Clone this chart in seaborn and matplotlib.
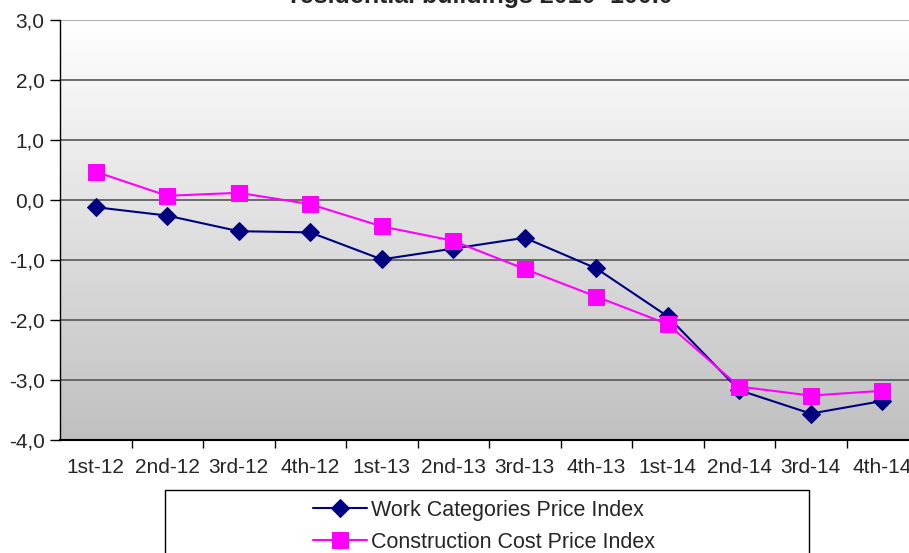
import matplotlib
matplotlib.use("Agg")
import matplotlib.pyplot as plt
from matplotlib.patches import Rectangle
import numpy as np
import pandas as pd
import seaborn as sns

quarters = ['1st-12', '2nd-12', '3rd-12', '4th-12', '1st-13', '2nd-13',
            '3rd-13', '4th-13', '1st-14', '2nd-14', '3rd-14', '4th-14']
work_index = [-0.12, -0.26, -0.52, -0.54, -0.99, -0.81,
              -0.63, -1.14, -1.94, -3.17, -3.56, -3.35]
cost_index = [0.47, 0.07, 0.12, -0.07, -0.44, -0.68,
              -1.15, -1.61, -2.07, -3.11, -3.26, -3.18]
y_ticks = [-4, -3, -2, -1, 0, 1, 2, 3]

df = pd.DataFrame({'Quarter': quarters,
                   'Work Categories Price Index': work_index,
                   'Construction Cost Price Index': cost_index})

sns.set_theme(style='white')
plt.rcParams['font.family'] = ['Liberation Sans', 'DejaVu Sans']

W, H = 909, 553
fig = plt.figure(figsize=(W / 100, H / 100), dpi=100)
# axes spans 60..918 px horizontally (runs off the right edge), 20..440 px vertically
ax = fig.add_axes([60 / W, (H - 440) / H, 858 / W, 420 / H])

# grey gradient background
grad = np.linspace(0, 1, 256).reshape(-1, 1)
ax.imshow(grad, extent=[-0.5, 11.5, -4, 3], aspect='auto', origin='upper',
          cmap=matplotlib.colors.LinearSegmentedColormap.from_list('g', ['#ffffff', '#c0c0c0']),
          zorder=0)

for v in y_ticks[1:]:
    ax.axhline(v, color='#555555' if v < 3 else '#a0a0a0', lw=1.2, zorder=1)

sns.lineplot(data=df, x='Quarter', y='Work Categories Price Index', ax=ax,
             color='#000080', marker='D', markersize=9, markeredgecolor='#000080',
             lw=1.5, label='Work Categories Price Index', zorder=3, legend=False)
sns.lineplot(data=df, x='Quarter', y='Construction Cost Price Index', ax=ax,
             color='#ff00ff', marker='s', markersize=11, markeredgecolor='#ff00ff',
             lw=1.5, label='Construction Cost Price Index', zorder=4, legend=False)

ax.set_xlim(-0.5, 11.5)
ax.set_ylim(-4, 3)
ax.set_yticks(y_ticks)
ax.set_yticklabels([f'{v:.1f}'.replace('.', ',') for v in y_ticks], fontsize=15)
ax.set_xticks(range(12))
ax.set_xticklabels(quarters, fontsize=15)
ax.set_xticks(np.arange(0.5, 11.5, 1), minor=True)
ax.tick_params(axis='x', which='major', length=0, pad=13)
ax.tick_params(axis='x', which='minor', length=6, width=1, color='black', direction='out', bottom=True)
ax.tick_params(axis='y', length=7, width=1, color='black', direction='out', left=True, pad=4)
ax.set_xlabel('')
ax.set_ylabel('')
for side in ['top', 'right']:
    ax.spines[side].set_visible(False)
ax.spines['left'].set_color('black')
ax.spines['left'].set_linewidth(1)
ax.spines['bottom'].set_color('black')
ax.spines['bottom'].set_linewidth(1.5)

fig.text(481 / W, 1 - 3 / H, 'residential buildings 2010=100.0',
         ha='center', va='baseline', fontsize=18, fontweight='bold')

# legend box at the bottom, running off the figure
fig.patches.append(Rectangle((165 / W, (H - 580) / H), 644 / W, 90 / H,
                             transform=fig.transFigure, facecolor='white',
                             edgecolor='black', lw=1, zorder=5))
handles, labels = ax.get_legend_handles_labels()
leg = fig.legend(handles, labels, loc='upper center',
                 bbox_to_anchor=(484 / W, 1 - 489 / H), frameon=False,
                 fontsize=15.5, handlelength=2.5, handletextpad=0.2,
                 labelspacing=0.5, borderpad=0)
leg.set_zorder(6)

fig.savefig('out.png', dpi=100)
